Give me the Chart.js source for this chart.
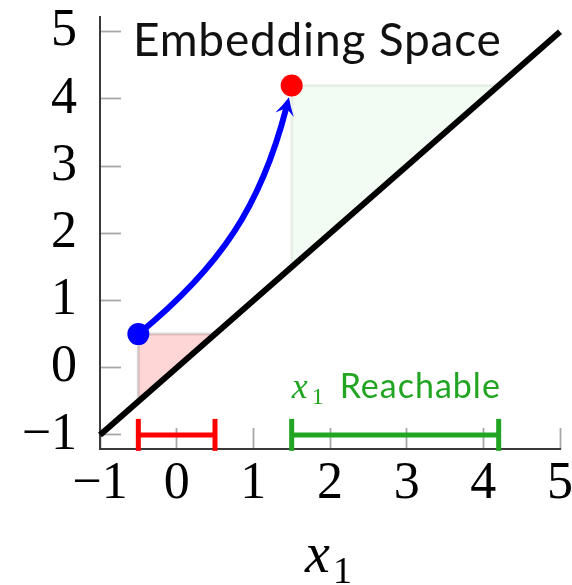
<!DOCTYPE html>
<html>
<head>
<meta charset="utf-8">
<script src="https://cdn.jsdelivr.net/npm/chart.js@4.4.0/dist/chart.umd.min.js"></script>
<style>
  html, body { margin: 0; padding: 0; background: #ffffff; }
  #wrap { width: 572px; height: 585px; }
</style>
</head>
<body>
<div id="wrap"><canvas id="chart" width="572" height="585"></canvas></div>
<script>
// Axis ranges and tick values
const xRange = [-1, 5];
const yRange = [-1.21, 5.22];
const xTicks = [-1, 0, 1, 2, 3, 4, 5];
const yTicks = [-1, 0, 1, 2, 3, 4, 5];

// Identity line y = x
const diagonal = [[-1, -1], [5, 5]];

// Start (blue) and end (red) embeddings
const startPoint = [-0.5, 0.5];
const endPoint = [1.5, 4.2];

// Shaded regions between each point and the identity line
const redRegion = [[-0.5, -0.5], [-0.5, 0.5], [0.5, 0.5]];
const greenRegion = [[1.5, 1.5], [1.5, 4.2], [4.2, 4.2]];

// Reachable x1 intervals drawn along y = -1
const redInterval = [[-0.5, -1], [0.5, -1]];
const greenInterval = [[1.5, -1], [4.2, -1]];

// Texts
const titleText = 'Embedding Space';
const reachText = 'Reachable';
const varName = 'x';
const varIndex = '1';

const toXY = arr => arr.map(p => ({ x: p[0], y: p[1] }));
const minus = v => (v < 0 ? '\u2212' + Math.abs(v) : String(v));

const BLUE = '#0000ff';
const RED = '#ff0000';
const GREEN = '#22a522';

function bezPoint(p0, p1, p2, p3, t) {
  const m = 1 - t;
  const a = m * m * m, b = 3 * m * m * t, c = 3 * m * t * t, d = t * t * t;
  return { x: a * p0.x + b * p1.x + c * p2.x + d * p3.x, y: a * p0.y + b * p1.y + c * p2.y + d * p3.y };
}
function bezSplit(p0, p1, p2, p3, t) {
  const lerp = (a, b) => ({ x: a.x + (b.x - a.x) * t, y: a.y + (b.y - a.y) * t });
  const a = lerp(p0, p1), b = lerp(p1, p2), c = lerp(p2, p3);
  const d = lerp(a, b), e = lerp(b, c);
  const f = lerp(d, e);
  return [p0, a, d, f];
}
function tAtDistance(p0, p1, p2, p3, center, dist) {
  let lo = 0, hi = 1;
  for (let i = 0; i < 40; i++) {
    const mid = (lo + hi) / 2;
    const q = bezPoint(p0, p1, p2, p3, mid);
    const dd = Math.hypot(q.x - center.x, q.y - center.y);
    if (dd > dist) lo = mid; else hi = mid;
  }
  return lo;
}

const overlayPlugin = {
  id: 'overlay',
  beforeDatasetsDraw(chart) {
    const { ctx, scales: { x, y } } = chart;
    const px = p => ({ x: x.getPixelForValue(p[0]), y: y.getPixelForValue(p[1]) });

    const poly = (pts, fill, stroke) => {
      const q = pts.map(px);
      ctx.save();
      ctx.beginPath();
      ctx.moveTo(q[0].x, q[0].y);
      for (let i = 1; i < q.length; i++) ctx.lineTo(q[i].x, q[i].y);
      ctx.closePath();
      ctx.fillStyle = fill;
      ctx.fill();
      ctx.lineWidth = 3;
      ctx.strokeStyle = stroke;
      ctx.stroke();
      ctx.restore();
    };
    poly(redRegion, 'rgba(255,0,0,0.16)', 'rgba(120,110,110,0.28)');
    poly(greenRegion, 'rgba(0,190,0,0.05)', 'rgba(120,150,120,0.13)');

    // Curved arrow from the start point to the end point
    const p0 = px(startPoint);
    const p3 = px(endPoint);
    const dx = p3.x - p0.x, dy = p3.y - p0.y;
    const len = Math.hypot(dx, dy);
    const ang = Math.atan2(dy, dx);
    const bend = 19 * Math.PI / 180;
    const k = 0.3915 * len;
    const p1 = { x: p0.x + k * Math.cos(ang + bend), y: p0.y + k * Math.sin(ang + bend) };
    const p2 = { x: p3.x - k * Math.cos(ang - bend), y: p3.y - k * Math.sin(ang - bend) };

    const dotR = 11;
    const headLen = 18, headHalf = 9.5;
    const tTip = tAtDistance(p0, p1, p2, p3, p3, dotR + 1);
    const tip = bezPoint(p0, p1, p2, p3, tTip);
    const before = bezPoint(p0, p1, p2, p3, tTip - 0.03);
    let ux = tip.x - before.x, uy = tip.y - before.y;
    const ul = Math.hypot(ux, uy); ux /= ul; uy /= ul;
    const nx = -uy, ny = ux;

    const tShaft = tAtDistance(p0, p1, p2, p3, p3, dotR + 1 + headLen * 0.6);
    const seg = bezSplit(p0, p1, p2, p3, tShaft);

    ctx.save();
    ctx.lineWidth = 6;
    ctx.strokeStyle = BLUE;
    ctx.lineCap = 'butt';
    ctx.beginPath();
    ctx.moveTo(seg[0].x, seg[0].y);
    ctx.bezierCurveTo(seg[1].x, seg[1].y, seg[2].x, seg[2].y, seg[3].x, seg[3].y);
    ctx.stroke();

    // arrow head
    const bx = tip.x - headLen * ux, by = tip.y - headLen * uy;
    const notch = { x: tip.x - headLen * 0.62 * ux, y: tip.y - headLen * 0.62 * uy };
    const l = { x: bx + headHalf * nx, y: by + headHalf * ny };
    const r = { x: bx - headHalf * nx, y: by - headHalf * ny };
    const cl = { x: tip.x - headLen * 0.45 * ux + headHalf * 0.35 * nx, y: tip.y - headLen * 0.45 * uy + headHalf * 0.35 * ny };
    const cr = { x: tip.x - headLen * 0.45 * ux - headHalf * 0.35 * nx, y: tip.y - headLen * 0.45 * uy - headHalf * 0.35 * ny };
    ctx.fillStyle = BLUE;
    ctx.beginPath();
    ctx.moveTo(tip.x, tip.y);
    ctx.quadraticCurveTo(cl.x, cl.y, l.x, l.y);
    ctx.lineTo(notch.x, notch.y);
    ctx.lineTo(r.x, r.y);
    ctx.quadraticCurveTo(cr.x, cr.y, tip.x, tip.y);
    ctx.closePath();
    ctx.fill();
    ctx.restore();
  },
  afterDraw(chart) {
    const { ctx, chartArea, scales: { x, y } } = chart;
    ctx.save();

    // Title inside the plot
    ctx.fillStyle = '#111111';
    ctx.textBaseline = 'alphabetic';
    ctx.textAlign = 'left';
    ctx.font = '46px Lato';
    if ('letterSpacing' in ctx) ctx.letterSpacing = '0.8px';
    ctx.fillText(titleText, chartArea.left + 33, 56);
    if ('letterSpacing' in ctx) ctx.letterSpacing = '0px';

    // Green reachable label above the green interval
    const lx = x.getPixelForValue(greenInterval[0][0]);
    const ly = y.getPixelForValue(greenInterval[0][1]) - 37;
    ctx.fillStyle = GREEN;
    ctx.font = 'italic 36px "Liberation Serif"';
    ctx.fillText(varName, lx, ly);
    ctx.font = '24px "Liberation Serif"';
    ctx.fillText(varIndex, lx + 20, ly + 6);
    ctx.font = '34px Lato';
    if ('letterSpacing' in ctx) ctx.letterSpacing = '1px';
    ctx.fillText(reachText, lx + 48, ly);
    if ('letterSpacing' in ctx) ctx.letterSpacing = '0px';

    // x-axis title
    const cx = (chartArea.left + chartArea.right) / 2;
    ctx.fillStyle = '#000000';
    ctx.font = 'italic 56px "Liberation Serif"';
    ctx.fillText(varName, cx - 25, 572);
    ctx.font = '38px "Liberation Serif"';
    ctx.fillText(varIndex, cx + 3, 583);
    ctx.restore();
  }
};

const tickFont = { family: '"Liberation Serif", serif', size: 52 };

new Chart(document.getElementById('chart'), {
  type: 'scatter',
  data: {
    datasets: [
      {
        label: 'end',
        data: toXY([endPoint]),
        pointRadius: 11,
        pointBackgroundColor: RED,
        pointBorderWidth: 0,
        order: 0,
        clip: false
      },
      {
        label: 'start',
        data: toXY([startPoint]),
        pointRadius: 11,
        pointBackgroundColor: BLUE,
        pointBorderWidth: 0,
        order: 1,
        clip: false
      },
      {
        label: 'red interval',
        data: toXY(redInterval),
        showLine: true,
        borderColor: RED,
        borderWidth: 5,
        pointStyle: 'line',
        rotation: 90,
        pointRadius: 16,
        pointBorderColor: RED,
        pointBorderWidth: 5,
        order: 2,
        clip: false
      },
      {
        label: 'green interval',
        data: toXY(greenInterval),
        showLine: true,
        borderColor: GREEN,
        borderWidth: 5,
        pointStyle: 'line',
        rotation: 90,
        pointRadius: 16,
        pointBorderColor: GREEN,
        pointBorderWidth: 5,
        order: 3,
        clip: false
      },
      {
        label: 'y = x',
        data: toXY(diagonal),
        showLine: true,
        borderColor: '#000000',
        borderWidth: 6,
        pointRadius: 0,
        order: 4,
        clip: false
      }
    ]
  },
  options: {
    responsive: false,
    devicePixelRatio: 1,
    animation: false,
    events: [],
    layout: { autoPadding: false, padding: { top: 17, right: 12, bottom: 0, left: 0 } },
    plugins: { legend: { display: false }, tooltip: { enabled: false }, title: { display: false } },
    scales: {
      x: {
        type: 'linear',
        min: xRange[0],
        max: xRange[1],
        afterBuildTicks: s => { s.ticks = xTicks.map(v => ({ value: v })); },
        afterFit: s => { s.height = 136; s.paddingLeft = 0; s.paddingRight = 0; },
        ticks: { font: tickFont, color: '#000000', padding: 25, maxRotation: 0, callback: v => minus(v) },
        grid: { drawOnChartArea: false, drawTicks: true, tickLength: -21, tickColor: '#a8a8a8', tickWidth: 1.8 },
        border: { display: true, color: '#3a3a3a', width: 2 }
      },
      y: {
        type: 'linear',
        min: yRange[0],
        max: yRange[1],
        afterBuildTicks: s => { s.ticks = yTicks.map(v => ({ value: v })); },
        afterFit: s => { s.width = 100; s.paddingTop = 0; s.paddingBottom = 0; },
        ticks: { font: tickFont, color: '#000000', padding: 44, callback: v => minus(v) },
        grid: { drawOnChartArea: false, drawTicks: true, tickLength: -21, tickColor: '#a8a8a8', tickWidth: 1.8 },
        border: { display: true, color: '#3a3a3a', width: 2 }
      }
    }
  },
  plugins: [overlayPlugin]
});
</script>
</body>
</html>
